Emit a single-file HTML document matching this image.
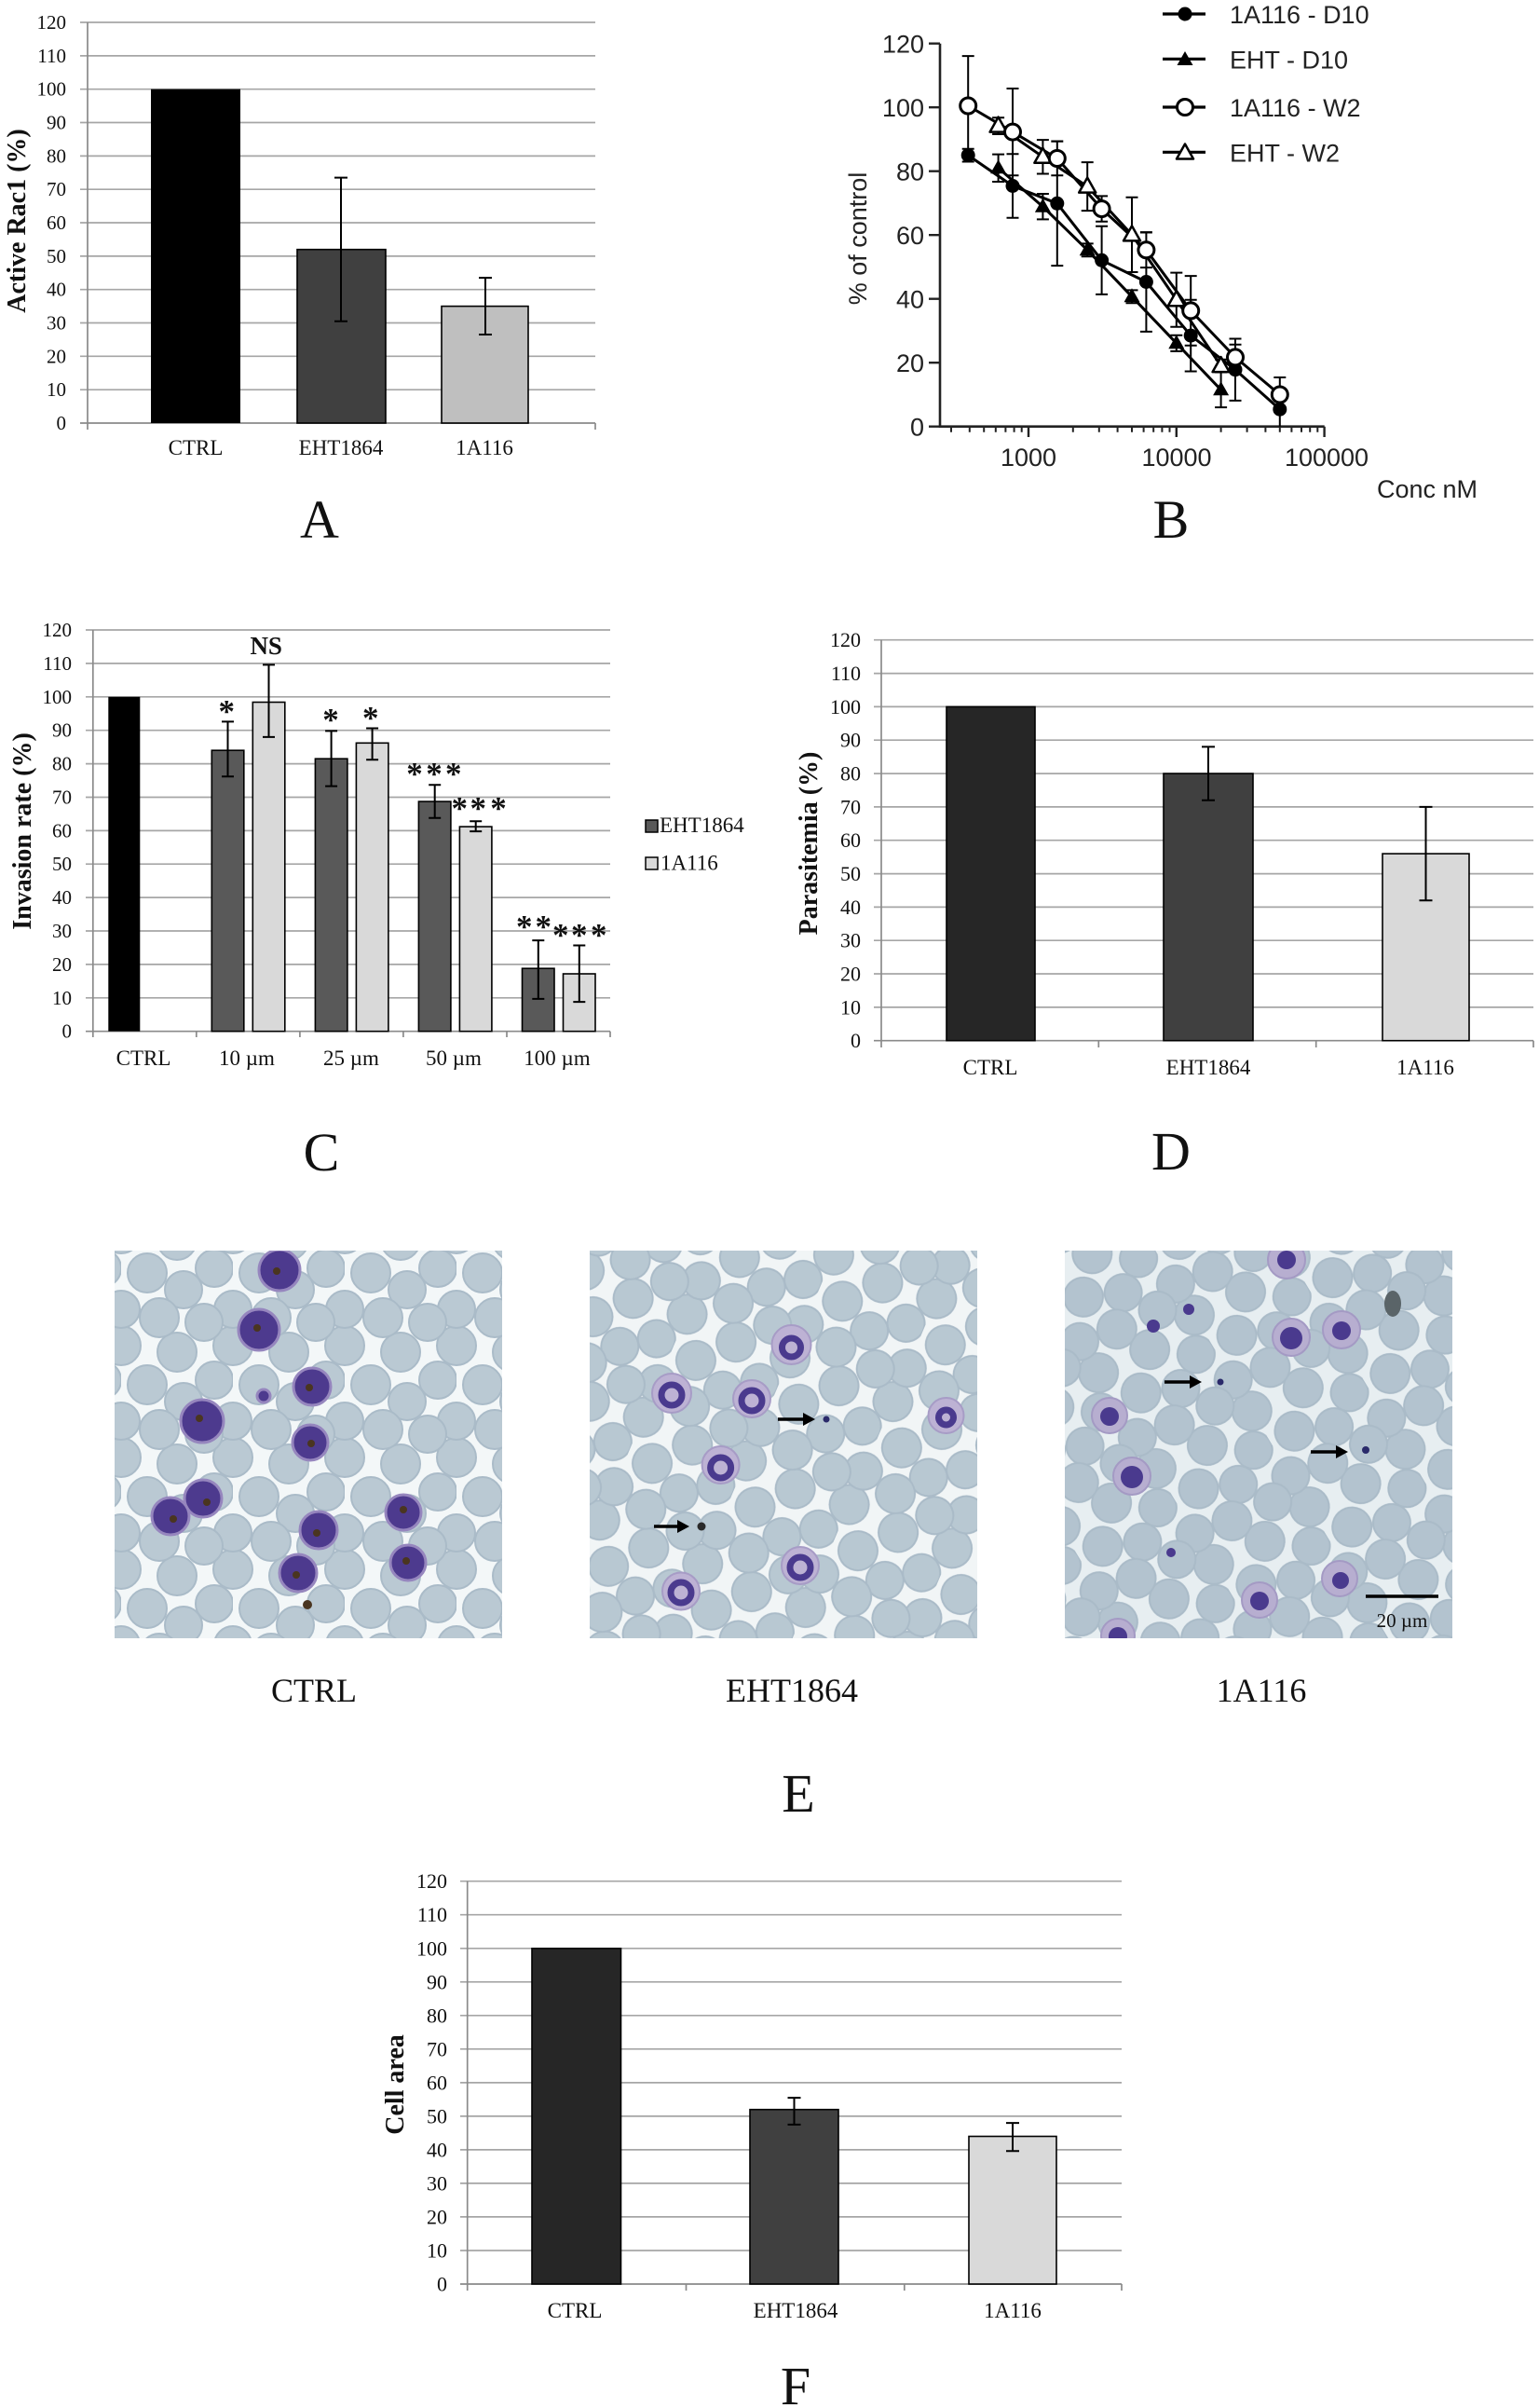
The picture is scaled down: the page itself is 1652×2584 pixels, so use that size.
<!DOCTYPE html>
<html>
<head>
<meta charset="utf-8">
<style>
html,body{margin:0;padding:0;background:#fff;}
svg{display:block;}
.tk{font-family:"Liberation Serif",serif;font-size:21px;fill:#111;text-anchor:end;}
.tk2{font-family:"Liberation Serif",serif;font-size:22px;fill:#111;text-anchor:end;}
.xl{font-family:"Liberation Serif",serif;font-size:23px;fill:#111;text-anchor:middle;}
.ttl{font-family:"Liberation Serif",serif;font-size:28px;font-weight:bold;fill:#111;text-anchor:middle;}
.big{font-family:"Liberation Serif",serif;font-size:58px;fill:#111;text-anchor:middle;}
.sans{font-family:"Liberation Sans",sans-serif;font-size:27px;fill:#222;}
.star{font-family:"Liberation Serif",serif;font-size:35px;font-weight:bold;fill:#111;text-anchor:middle;}
.cap{font-family:"Liberation Serif",serif;font-size:36px;fill:#111;text-anchor:middle;}
.grid{stroke:#a6a6a6;stroke-width:1.7;}
.ax{stroke:#8a8a8a;stroke-width:1.7;fill:none;}
.eb{stroke:#000;stroke-width:2;fill:none;}
</style>
</head>
<body>
<svg width="1652" height="2584" viewBox="0 0 1652 2584" xmlns="http://www.w3.org/2000/svg">
<defs>
  <g id="fc"><circle r="7.5" fill="#000"/></g>
  <g id="ft"><path d="M0,-9 L8.5,6 L-8.5,6 Z" fill="#000"/></g>
  <g id="oc"><circle r="8.5" fill="#fff" stroke="#000" stroke-width="3"/></g>
  <g id="ot"><path d="M0,-9.5 L9,6.5 L-9,6.5 Z" fill="#fff" stroke="#000" stroke-width="2.5" stroke-linejoin="round"/></g>
  <g id="cellset" stroke="#aabbc8" stroke-width="2">
    <circle cx="0" cy="0" r="21"/><circle cx="120" cy="0" r="21"/><circle cx="0" cy="120" r="21"/><circle cx="120" cy="120" r="21"/>
    <circle cx="60" cy="7" r="21"/><circle cx="60" cy="127" r="21"/>
    <circle cx="100" cy="37" r="20"/>
    <circle cx="28" cy="42" r="21"/>
    <circle cx="67" cy="60" r="20"/>
    <circle cx="0" cy="81" r="20"/><circle cx="120" cy="81" r="20"/>
    <circle cx="41" cy="90" r="21"/>
    <circle cx="89" cy="95" r="20"/>
  </g>
  <pattern id="p1" width="120" height="120" patternUnits="userSpaceOnUse" patternTransform="translate(10,4)">
    <use href="#cellset" fill="#bac9d3"/>
  </pattern>
  <pattern id="p2" width="120" height="120" patternUnits="userSpaceOnUse" patternTransform="rotate(23) translate(30,50)">
    <use href="#cellset" fill="#b8c8d2"/>
  </pattern>
  <pattern id="p3" width="120" height="120" patternUnits="userSpaceOnUse" patternTransform="rotate(-31) translate(12,70)">
    <use href="#cellset" fill="#b3c3cf"/>
  </pattern>
</defs>

<!-- ================= PANEL A ================= -->
<g>
  <g class="grid">
    <line x1="86" y1="418.2" x2="639" y2="418.2"/>
    <line x1="86" y1="382.3" x2="639" y2="382.3"/>
    <line x1="86" y1="346.5" x2="639" y2="346.5"/>
    <line x1="86" y1="310.7" x2="639" y2="310.7"/>
    <line x1="86" y1="274.9" x2="639" y2="274.9"/>
    <line x1="86" y1="239" x2="639" y2="239"/>
    <line x1="86" y1="203.2" x2="639" y2="203.2"/>
    <line x1="86" y1="167.4" x2="639" y2="167.4"/>
    <line x1="86" y1="131.5" x2="639" y2="131.5"/>
    <line x1="86" y1="95.7" x2="639" y2="95.7"/>
    <line x1="86" y1="59.9" x2="639" y2="59.9"/>
    <line x1="86" y1="24" x2="639" y2="24"/>
  </g>
  <path class="ax" d="M94,24 V461 M86,454 H639 M639,454 V461"/>
  <g class="tk">
    <text x="71" y="461">0</text>
    <text x="71" y="425.2">10</text>
    <text x="71" y="389.3">20</text>
    <text x="71" y="353.5">30</text>
    <text x="71" y="317.7">40</text>
    <text x="71" y="281.9">50</text>
    <text x="71" y="246">60</text>
    <text x="71" y="210.2">70</text>
    <text x="71" y="174.4">80</text>
    <text x="71" y="138.5">90</text>
    <text x="71" y="102.7">100</text>
    <text x="71" y="66.9">110</text>
    <text x="71" y="31">120</text>
  </g>
  <rect x="162" y="95.7" width="96" height="358.3" fill="#000"/>
  <rect x="319" y="267.7" width="95" height="186.3" fill="#404040" stroke="#000" stroke-width="1.6"/>
  <rect x="474" y="328.6" width="93" height="125.4" fill="#bfbfbf" stroke="#000" stroke-width="1.6"/>
  <path class="eb" d="M366,190.6 V344.7 M359,190.6 h14 M359,344.7 h14 M521,298.1 V359 M514,298.1 h14 M514,359 h14"/>
  <text class="xl" x="210" y="488">CTRL</text>
  <text class="xl" x="366" y="488">EHT1864</text>
  <text class="xl" x="520" y="488">1A116</text>
  <text class="ttl" transform="translate(27,237) rotate(-90)">Active Rac1 (%)</text>
  <text class="big" x="343" y="577">A</text>
</g>

<!-- ================= PANEL B ================= -->
<g>
  <path d="M1009,46.7 V457.7 H1421.7" fill="none" stroke="#222" stroke-width="2.6"/>
  <path stroke="#222" stroke-width="2.4" fill="none" d="M997,46.7 H1009 M997,115.2 H1009 M997,183.7 H1009 M997,252.2 H1009 M997,320.7 H1009 M997,389.2 H1009 M997,457.7 H1009
   M1104,457.7 V469 M1262.8,457.7 V469 M1421.6,457.7 V469"/>
  <path stroke="#222" stroke-width="2" fill="none" d="M1021,457.7 v6 M1040.8,457.7 v6 M1056.2,457.7 v6 M1068.8,457.7 v6 M1079.4,457.7 v6 M1088.6,457.7 v6 M1096.7,457.7 v6
   M1151.8,457.7 v6 M1179.8,457.7 v6 M1199.6,457.7 v6 M1215,457.7 v6 M1227.6,457.7 v6 M1238.2,457.7 v6 M1247.4,457.7 v6 M1255.5,457.7 v6
   M1310.6,457.7 v6 M1338.6,457.7 v6 M1358.4,457.7 v6 M1373.8,457.7 v6 M1386.4,457.7 v6 M1397,457.7 v6 M1406.2,457.7 v6 M1414.3,457.7 v6"/>
  <g class="sans" text-anchor="end">
    <text x="992" y="56.5">120</text>
    <text x="992" y="125">100</text>
    <text x="992" y="193.5">80</text>
    <text x="992" y="262">60</text>
    <text x="992" y="330.5">40</text>
    <text x="992" y="399">20</text>
    <text x="992" y="467.5">0</text>
  </g>
  <g class="sans" text-anchor="middle">
    <text x="1104" y="500">1000</text>
    <text x="1263" y="500">10000</text>
    <text x="1424" y="500">100000</text>
  </g>
  <text class="sans" x="1478" y="534">Conc nM</text>
  <text class="sans" text-anchor="middle" transform="translate(930,256) rotate(-90)">% of control</text>

  <g fill="none" stroke="#000" stroke-width="3" stroke-linejoin="round">
    <polyline points="1039.2,166.6 1087,199.5 1134.8,218.3 1182.6,279.3 1230.4,302.5 1278.2,360.1 1326,396.7 1373.8,439.2"/>
    <polyline points="1071.6,180.3 1119.4,221.7 1167.2,268.3 1215,318.3 1262.8,368.3 1310.6,418.3"/>
    <polyline points="1039.2,113.5 1087,141.6 1134.8,170 1182.6,224.1 1230.4,268.3 1278.2,333.4 1326,383.4 1373.8,423.5"/>
    <polyline points="1071.6,135.1 1119.4,168.3 1167.2,200.1 1215,251.9 1262.8,321.7 1310.6,392.6"/>
  </g>
  <path stroke="#000" stroke-width="2" fill="none" d="
   M1039.2,159.7 V173.5 M1032.7,159.7 h13 M1032.7,173.5 h13
   M1087,165.2 V233.8 M1080.5,165.2 h13 M1080.5,233.8 h13
   M1134.8,151.5 V285.1 M1128.3,151.5 h13 M1128.3,285.1 h13
   M1182.6,242.7 V315.9 M1176.1,242.7 h13 M1176.1,315.9 h13
   M1230.4,249.1 V355.9 M1223.9,249.1 h13 M1223.9,355.9 h13
   M1278.2,321.7 V398.5 M1271.7,321.7 h13 M1271.7,398.5 h13
   M1326,363.5 V429.9 M1319.5,363.5 h13 M1319.5,429.9 h13
   M1373.8,418.6 V457.7 M1367.3,418.6 h13
   M1071.6,165.6 V195 M1065.1,165.6 h13 M1065.1,195 h13
   M1119.4,208 V235.4 M1112.9,208 h13 M1112.9,235.4 h13
   M1167.2,261.4 V275.2 M1160.7,261.4 h13 M1160.7,275.2 h13
   M1215,311.4 V325.2 M1208.5,311.4 h13 M1208.5,325.2 h13
   M1262.8,359.7 V376.9 M1256.3,359.7 h13 M1256.3,376.9 h13
   M1310.6,399.5 V437.1 M1304.1,399.5 h13 M1304.1,437.1 h13
   M1039.2,60.1 V166.9 M1032.7,60.1 h13 M1032.7,166.9 h13
   M1087,95 V188.2 M1080.5,95 h13 M1080.5,188.2 h13
   M1134.8,151.8 V188.2 M1128.3,151.8 h13 M1128.3,188.2 h13
   M1182.6,210.4 V237.8 M1176.1,210.4 h13 M1176.1,237.8 h13
   M1230.4,249.5 V287.1 M1223.9,249.5 h13 M1223.9,287.1 h13
   M1278.2,296.1 V370.7 M1271.7,296.1 h13 M1271.7,370.7 h13
   M1326,369.7 V397.1 M1319.5,369.7 h13 M1319.5,397.1 h13
   M1373.8,405 V442 M1367.3,405 h13 M1367.3,442 h13
   M1071.6,126.2 V144 M1065.1,126.2 h13 M1065.1,144 h13
   M1119.4,150.1 V186.5 M1112.9,150.1 h13 M1112.9,186.5 h13
   M1167.2,174.1 V226.1 M1160.7,174.1 h13 M1160.7,226.1 h13
   M1215,211.8 V292 M1208.5,211.8 h13 M1208.5,292 h13
   M1262.8,292.6 V350.8 M1256.3,292.6 h13 M1256.3,350.8 h13
   M1310.6,385.7 V399.5 M1304.1,385.7 h13 M1304.1,399.5 h13"/>
  <use href="#fc" x="1039.2" y="166.6"/><use href="#fc" x="1087" y="199.5"/><use href="#fc" x="1134.8" y="218.3"/><use href="#fc" x="1182.6" y="279.3"/>
  <use href="#fc" x="1230.4" y="302.5"/><use href="#fc" x="1278.2" y="360.1"/><use href="#fc" x="1326" y="396.7"/><use href="#fc" x="1373.8" y="439.2"/>
  <use href="#ft" x="1071.6" y="180.3"/><use href="#ft" x="1119.4" y="221.7"/><use href="#ft" x="1167.2" y="268.3"/><use href="#ft" x="1215" y="318.3"/>
  <use href="#ft" x="1262.8" y="368.3"/><use href="#ft" x="1310.6" y="418.3"/>
  <use href="#ot" x="1071.6" y="135.1"/><use href="#ot" x="1119.4" y="168.3"/><use href="#ot" x="1167.2" y="200.1"/><use href="#ot" x="1215" y="251.9"/>
  <use href="#ot" x="1262.8" y="321.7"/><use href="#ot" x="1310.6" y="392.6"/>
  <use href="#oc" x="1039.2" y="113.5"/><use href="#oc" x="1087" y="141.6"/><use href="#oc" x="1134.8" y="170"/><use href="#oc" x="1182.6" y="224.1"/>
  <use href="#oc" x="1230.4" y="268.3"/><use href="#oc" x="1278.2" y="333.4"/><use href="#oc" x="1326" y="383.4"/><use href="#oc" x="1373.8" y="423.5"/>
  <path stroke="#000" stroke-width="3.2" d="M1248,15 H1294 M1248,63.3 H1294 M1248,115 H1294 M1248,163.3 H1294"/>
  <use href="#fc" x="1272" y="15"/>
  <use href="#ft" x="1272" y="64"/>
  <use href="#oc" x="1272" y="115"/>
  <use href="#ot" x="1272" y="164"/>
  <g class="sans">
    <text x="1320" y="25">1A116 - D10</text>
    <text x="1320" y="73.3">EHT - D10</text>
    <text x="1320" y="125">1A116 - W2</text>
    <text x="1320" y="173.3">EHT - W2</text>
  </g>
  <text class="big" x="1257" y="577">B</text>
</g>

<!-- ================= PANEL C ================= -->
<g>
  <g class="grid">
    <line x1="92" y1="1070.8" x2="655" y2="1070.8"/>
    <line x1="92" y1="1034.9" x2="655" y2="1034.9"/>
    <line x1="92" y1="999" x2="655" y2="999"/>
    <line x1="92" y1="963.1" x2="655" y2="963.1"/>
    <line x1="92" y1="927.2" x2="655" y2="927.2"/>
    <line x1="92" y1="891.4" x2="655" y2="891.4"/>
    <line x1="92" y1="855.5" x2="655" y2="855.5"/>
    <line x1="92" y1="819.6" x2="655" y2="819.6"/>
    <line x1="92" y1="783.7" x2="655" y2="783.7"/>
    <line x1="92" y1="747.8" x2="655" y2="747.8"/>
    <line x1="92" y1="711.9" x2="655" y2="711.9"/>
    <line x1="92" y1="676" x2="655" y2="676"/>
  </g>
  <path class="ax" d="M99.8,676 V1113 M92,1106.7 H655 M210.8,1106.7 V1113 M321.9,1106.7 V1113 M432.9,1106.7 V1113 M544,1106.7 V1113 M655,1106.7 V1113"/>
  <g class="tk">
    <text x="77" y="1113.7">0</text>
    <text x="77" y="1077.8">10</text>
    <text x="77" y="1041.9">20</text>
    <text x="77" y="1006">30</text>
    <text x="77" y="970.1">40</text>
    <text x="77" y="934.2">50</text>
    <text x="77" y="898.4">60</text>
    <text x="77" y="862.5">70</text>
    <text x="77" y="826.6">80</text>
    <text x="77" y="790.7">90</text>
    <text x="77" y="754.8">100</text>
    <text x="77" y="718.9">110</text>
    <text x="77" y="683">120</text>
  </g>
  <rect x="116.3" y="747.8" width="34" height="358.9" fill="#000"/>
  <g stroke="#000" stroke-width="1.6">
    <rect x="227.3" y="805.2" width="34.5" height="301.5" fill="#595959"/>
    <rect x="271.3" y="753.5" width="34.5" height="353.2" fill="#d9d9d9"/>
    <rect x="338.4" y="814.2" width="34.5" height="292.5" fill="#595959"/>
    <rect x="382.4" y="797.3" width="34.5" height="309.4" fill="#d9d9d9"/>
    <rect x="449.4" y="860.1" width="34.5" height="246.6" fill="#595959"/>
    <rect x="493.4" y="887.1" width="34.5" height="219.6" fill="#d9d9d9"/>
    <rect x="560.5" y="1039.2" width="34.5" height="67.5" fill="#595959"/>
    <rect x="604.5" y="1045" width="34.5" height="61.7" fill="#d9d9d9"/>
  </g>
  <path class="eb" d="
   M244.5,774.4 V833.2 M238,774.4 h13 M238,833.2 h13
   M288.5,713.4 V790.9 M282,713.4 h13 M282,790.9 h13
   M355.6,784.4 V843.6 M349.1,784.4 h13 M349.1,843.6 h13
   M399.6,781.5 V815.3 M393.1,781.5 h13 M393.1,815.3 h13
   M466.7,842.2 V877.7 M460.2,842.2 h13 M460.2,877.7 h13
   M510.7,881.3 V892.1 M504.2,881.3 h13 M504.2,892.1 h13
   M577.8,1009.1 V1071.9 M571.3,1009.1 h13 M571.3,1071.9 h13
   M621.8,1014.5 V1075.1 M615.3,1014.5 h13 M615.3,1075.1 h13"/>
  <g class="star">
    <text x="243.3" y="775">*</text>
    <text x="355" y="784">*</text>
    <text x="397.7" y="782">*</text>
    <text x="445" y="842">*</text><text x="466" y="842">*</text><text x="486.7" y="842">*</text>
    <text x="493.3" y="879">*</text><text x="513.3" y="879">*</text><text x="535" y="879">*</text>
    <text x="562.7" y="1006">*</text><text x="583.3" y="1006">*</text>
    <text x="601.7" y="1015">*</text><text x="621.7" y="1015">*</text><text x="642.7" y="1015">*</text>
  </g>
  <text x="285.7" y="702" font-family="Liberation Serif, serif" font-size="27" font-weight="bold" text-anchor="middle" fill="#111">NS</text>
  <rect x="693" y="880" width="13" height="13" fill="#595959" stroke="#000" stroke-width="1.5"/>
  <rect x="693" y="920" width="13" height="13" fill="#d9d9d9" stroke="#000" stroke-width="1.5"/>
  <text x="708" y="893" font-family="Liberation Serif, serif" font-size="23" fill="#111">EHT1864</text>
  <text x="709" y="933.5" font-family="Liberation Serif, serif" font-size="23" fill="#111">1A116</text>
  <g class="xl">
    <text x="154" y="1143">CTRL</text>
    <text x="265" y="1143">10 µm</text>
    <text x="377" y="1143">25 µm</text>
    <text x="487" y="1143">50 µm</text>
    <text x="598" y="1143">100 µm</text>
  </g>
  <text class="ttl" transform="translate(33,892) rotate(-90)">Invasion rate (%)</text>
  <text class="big" x="345" y="1256">C</text>
</g>

<!-- ================= PANEL D ================= -->
<g>
  <g class="grid">
    <line x1="938" y1="1080.9" x2="1646" y2="1080.9"/>
    <line x1="938" y1="1045" x2="1646" y2="1045"/>
    <line x1="938" y1="1009.2" x2="1646" y2="1009.2"/>
    <line x1="938" y1="973.4" x2="1646" y2="973.4"/>
    <line x1="938" y1="937.6" x2="1646" y2="937.6"/>
    <line x1="938" y1="901.7" x2="1646" y2="901.7"/>
    <line x1="938" y1="865.9" x2="1646" y2="865.9"/>
    <line x1="938" y1="830.1" x2="1646" y2="830.1"/>
    <line x1="938" y1="794.2" x2="1646" y2="794.2"/>
    <line x1="938" y1="758.4" x2="1646" y2="758.4"/>
    <line x1="938" y1="722.6" x2="1646" y2="722.6"/>
    <line x1="938" y1="686.7" x2="1646" y2="686.7"/>
  </g>
  <path class="ax" d="M946,686.7 V1124 M938,1116.7 H1646 M1179.3,1116.7 V1124 M1412.7,1116.7 V1124 M1646,1116.7 V1124"/>
  <g class="tk2">
    <text x="924" y="1124.2">0</text>
    <text x="924" y="1088.4">10</text>
    <text x="924" y="1052.5">20</text>
    <text x="924" y="1016.7">30</text>
    <text x="924" y="980.9">40</text>
    <text x="924" y="945.1">50</text>
    <text x="924" y="909.2">60</text>
    <text x="924" y="873.4">70</text>
    <text x="924" y="837.6">80</text>
    <text x="924" y="801.7">90</text>
    <text x="924" y="765.9">100</text>
    <text x="924" y="730.1">110</text>
    <text x="924" y="694.2">120</text>
  </g>
  <g stroke="#000" stroke-width="1.6">
    <rect x="1016" y="758.4" width="95" height="358.3" fill="#262626"/>
    <rect x="1249" y="830.1" width="96" height="286.6" fill="#404040"/>
    <rect x="1484" y="916.1" width="93" height="200.6" fill="#d9d9d9"/>
  </g>
  <path class="eb" d="M1297,801.4 V858.7 M1290,801.4 h14 M1290,858.7 h14 M1530.5,865.9 V966.2 M1523.5,865.9 h14 M1523.5,966.2 h14"/>
  <g class="xl">
    <text x="1063" y="1153">CTRL</text>
    <text x="1297" y="1153">EHT1864</text>
    <text x="1530" y="1153">1A116</text>
  </g>
  <text class="ttl" transform="translate(877,905) rotate(-90)">Parasitemia (%)</text>
  <text class="big" x="1257" y="1255">D</text>
</g>

<!-- ================= PANEL E ================= -->
<g>
  <svg x="123" y="1342" width="416" height="416" viewBox="123 1342 416 416">
    <rect x="123" y="1342" width="416" height="416" fill="#f3f7f8"/>
    <rect x="123" y="1342" width="416" height="416" fill="url(#p1)"/>
    <g fill="#4d3a8e" stroke="#9686be" stroke-width="3">
      <circle cx="300" cy="1363" r="22"/><circle cx="278" cy="1427" r="22"/><circle cx="335" cy="1488" r="20"/>
      <circle cx="217" cy="1525" r="23"/><circle cx="333" cy="1548" r="19"/><circle cx="218" cy="1608" r="20"/>
      <circle cx="183" cy="1627" r="20"/><circle cx="342" cy="1642" r="20"/><circle cx="433" cy="1623" r="19"/>
      <circle cx="320" cy="1688" r="20"/><circle cx="438" cy="1677" r="19"/><circle cx="283" cy="1498" r="7"/>
    </g>
    <g fill="#4a3520">
      <circle cx="297" cy="1364" r="4"/><circle cx="276" cy="1425" r="4"/><circle cx="332" cy="1489" r="4"/>
      <circle cx="214" cy="1522" r="4"/><circle cx="334" cy="1549" r="4"/><circle cx="222" cy="1612" r="4"/>
      <circle cx="186" cy="1630" r="4"/><circle cx="340" cy="1645" r="4"/><circle cx="433" cy="1620" r="4"/>
      <circle cx="318" cy="1690" r="4"/><circle cx="436" cy="1675" r="4"/><circle cx="330" cy="1722" r="5"/>
    </g>
  </svg>
  <svg x="633" y="1342" width="416" height="416" viewBox="633 1342 416 416">
    <rect x="633" y="1342" width="416" height="416" fill="#f1f5f6"/>
    <rect x="633" y="1342" width="416" height="416" fill="url(#p2)"/>
    <g fill="#bdb2d4" stroke="#a79cc6" stroke-width="2">
      <circle cx="849.5" cy="1443" r="21"/><circle cx="721" cy="1495" r="21"/><circle cx="807" cy="1501" r="20"/>
      <circle cx="1015.5" cy="1519" r="19"/><circle cx="773.6" cy="1572" r="20"/><circle cx="859" cy="1680" r="20"/>
      <circle cx="731" cy="1707.5" r="20"/>
    </g>
    <g fill="none" stroke="#4a3a8e" stroke-width="7">
      <circle cx="849.5" cy="1446" r="10"/><circle cx="721" cy="1497" r="11"/><circle cx="807" cy="1503" r="11"/>
      <circle cx="1015.5" cy="1521" r="8"/><circle cx="773.6" cy="1575" r="11"/><circle cx="859" cy="1682" r="11"/>
      <circle cx="731" cy="1709" r="11"/>
    </g>
    <circle cx="887" cy="1523" r="3.5" fill="#2a2a6a"/>
    <circle cx="753" cy="1638" r="4.5" fill="#2a2a2a"/>
    <path d="M835,1523 H866" stroke="#000" stroke-width="3.5"/><path d="M862,1516 L875,1523 L862,1530 Z" fill="#000"/>
    <path d="M702,1638 H731" stroke="#000" stroke-width="3.5"/><path d="M727,1631 L740,1638 L727,1645 Z" fill="#000"/>
  </svg>
  <svg x="1143" y="1342" width="416" height="416" viewBox="1143 1342 416 416">
    <rect x="1143" y="1342" width="416" height="416" fill="#e7eef1"/>
    <rect x="1143" y="1342" width="416" height="416" fill="url(#p3)"/>
    <g fill="#b7aed0" stroke="#a49ac4" stroke-width="2">
      <circle cx="1381" cy="1352" r="20"/><circle cx="1386" cy="1435" r="20"/><circle cx="1440" cy="1427" r="20"/>
      <circle cx="1191" cy="1519" r="19"/><circle cx="1215" cy="1584" r="20"/><circle cx="1352" cy="1717" r="19"/>
      <circle cx="1438" cy="1694" r="19"/><circle cx="1200" cy="1755" r="18"/>
    </g>
    <g fill="#4a3a8e">
      <circle cx="1381" cy="1352" r="10"/><circle cx="1386" cy="1436" r="12"/><circle cx="1440" cy="1428" r="10"/>
      <circle cx="1191" cy="1520" r="10"/><circle cx="1215" cy="1585" r="12"/><circle cx="1352" cy="1718" r="10"/>
      <circle cx="1439" cy="1696" r="9"/><circle cx="1200" cy="1756" r="10"/>
      <circle cx="1238" cy="1423" r="7"/><circle cx="1276" cy="1405" r="6"/><circle cx="1257" cy="1666" r="5"/>
    </g>
    <ellipse cx="1495" cy="1399" rx="9" ry="14" fill="#5a6468"/>
    <circle cx="1310" cy="1483" r="3.5" fill="#2a2a6a"/>
    <circle cx="1466" cy="1556" r="4" fill="#2a2a6a"/>
    <path d="M1250,1483 H1281" stroke="#000" stroke-width="3.5"/><path d="M1277,1476 L1290,1483 L1277,1490 Z" fill="#000"/>
    <path d="M1407,1558 H1438" stroke="#000" stroke-width="3.5"/><path d="M1434,1551 L1447,1558 L1434,1565 Z" fill="#000"/>
    <line x1="1466" y1="1713" x2="1544" y2="1713" stroke="#000" stroke-width="3.5"/>
    <text x="1505" y="1746" font-family="Liberation Serif, serif" font-size="21" text-anchor="middle" fill="#111">20 µm</text>
  </svg>
  <g class="cap">
    <text x="337" y="1826">CTRL</text>
    <text x="850" y="1826">EHT1864</text>
    <text x="1354" y="1826">1A116</text>
  </g>
  <text class="big" x="857" y="1944">E</text>
</g>

<!-- ================= PANEL F ================= -->
<g>
  <g class="grid">
    <line x1="494" y1="2415" x2="1204" y2="2415"/>
    <line x1="494" y1="2378.9" x2="1204" y2="2378.9"/>
    <line x1="494" y1="2342.9" x2="1204" y2="2342.9"/>
    <line x1="494" y1="2306.9" x2="1204" y2="2306.9"/>
    <line x1="494" y1="2270.9" x2="1204" y2="2270.9"/>
    <line x1="494" y1="2234.9" x2="1204" y2="2234.9"/>
    <line x1="494" y1="2198.8" x2="1204" y2="2198.8"/>
    <line x1="494" y1="2162.8" x2="1204" y2="2162.8"/>
    <line x1="494" y1="2126.8" x2="1204" y2="2126.8"/>
    <line x1="494" y1="2090.8" x2="1204" y2="2090.8"/>
    <line x1="494" y1="2054.7" x2="1204" y2="2054.7"/>
    <line x1="494" y1="2018.7" x2="1204" y2="2018.7"/>
  </g>
  <path class="ax" d="M501.7,2018.7 V2458 M494,2451 H1204 M736.5,2451 V2458 M970.8,2451 V2458 M1204,2451 V2458"/>
  <g class="tk2">
    <text x="480" y="2458.5">0</text>
    <text x="480" y="2422.5">10</text>
    <text x="480" y="2386.4">20</text>
    <text x="480" y="2350.4">30</text>
    <text x="480" y="2314.4">40</text>
    <text x="480" y="2278.4">50</text>
    <text x="480" y="2242.4">60</text>
    <text x="480" y="2206.3">70</text>
    <text x="480" y="2170.3">80</text>
    <text x="480" y="2134.3">90</text>
    <text x="480" y="2098.3">100</text>
    <text x="480" y="2062.2">110</text>
    <text x="480" y="2026.2">120</text>
  </g>
  <g stroke="#000" stroke-width="1.6">
    <rect x="571" y="2090.8" width="95.5" height="360.2" fill="#262626"/>
    <rect x="805" y="2263.7" width="95" height="187.3" fill="#404040"/>
    <rect x="1040" y="2292.5" width="94" height="158.5" fill="#d9d9d9"/>
  </g>
  <path class="eb" d="M852.5,2251.1 V2279.9 M845.5,2251.1 h14 M845.5,2279.9 h14 M1087,2278.1 V2308.3 M1080,2278.1 h14 M1080,2308.3 h14"/>
  <g class="xl">
    <text x="617" y="2487">CTRL</text>
    <text x="854" y="2487">EHT1864</text>
    <text x="1087" y="2487">1A116</text>
  </g>
  <text class="ttl" transform="translate(433,2237) rotate(-90)">Cell area</text>
  <text class="big" x="854" y="2580">F</text>
</g>
</svg>
</body>
</html>
